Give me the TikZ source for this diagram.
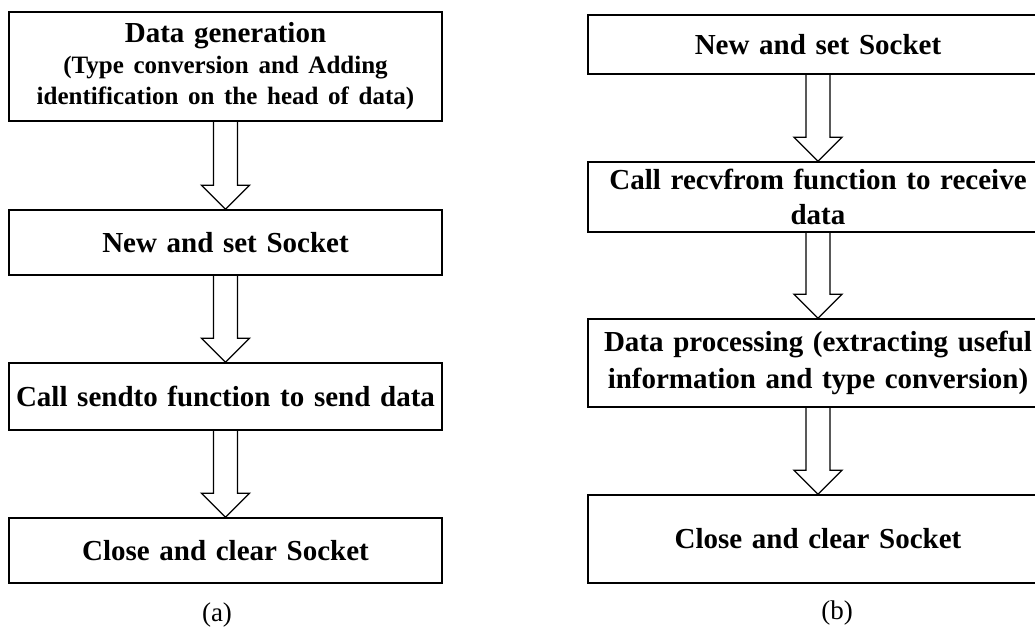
\documentclass[tikz,border=0pt]{standalone}
\usepackage{fontspec}
\setmainfont{Liberation Serif}
\usetikzlibrary{calc}
\tikzset{
  stepbox/.style={draw, line width=1.5pt, rectangle, align=center, inner xsep=2pt,
    font=\bfseries\fontsize{29}{35}\selectfont},
  leftbox/.style={stepbox, minimum width=433pt, text width=429pt},
  rightbox/.style={stepbox, minimum width=460pt, text width=456pt},
  hollow/.style={line width=1.3pt, line join=miter}
}
\begin{document}
\begin{tikzpicture}[x=1pt,y=-1pt]
    \useasboundingbox (0,0) rectangle (1035,628) ;
    \node [leftbox, minimum height=109pt, font=\bfseries\fontsize{29}{31}\selectfont] (a1) at (225.5,66.5)
      {Data generation\\{\fontsize{25}{31}\selectfont (Type conversion and Adding\\identification on the head of data)}} ;
    \node [leftbox, minimum height=65pt] (a2) at (225.5,242.5) {New and set Socket} ;
    \node [leftbox, minimum height=67pt] (a3) at (225.5,396.5) {Call sendto function to send data} ;
    \node [leftbox, minimum height=65pt] (a4) at (225.5,550.5) {Close and clear Socket} ;
    \node [rightbox, minimum height=59pt] (b1) at (818,44.5) {New and set Socket} ;
    \node [rightbox, minimum height=70pt] (b2) at (818,197) {Call recvfrom function to receive\\data} ;
    \node [rightbox, minimum height=88pt, font=\bfseries\fontsize{29}{37}\selectfont] (b3) at (818,363)
      {Data processing (extracting useful\\information and type conversion)} ;
    \node [rightbox, minimum height=88pt] (b4) at (818,539) {Close and clear Socket} ;
    \foreach \u/\v in {a1/a2,a2/a3,a3/a4,b1/b2,b2/b3,b3/b4} {
      \draw [hollow] ($(\u.south)+(-12,0)$) -- ($(\v.north)+(-12,-24)$) -- ++(-12,0) -- (\v.north)
        -- ++(24,-24) -- ++(-12,0) -- ($(\u.south)+(12,0)$) ;
    }
    \node [font=\fontsize{27}{32}\selectfont] (la) at (217,615) {(a)} ;
    \node [font=\fontsize{27}{32}\selectfont] (lb) at (837,613) {(b)} ;
  \end{tikzpicture}
\end{document}
